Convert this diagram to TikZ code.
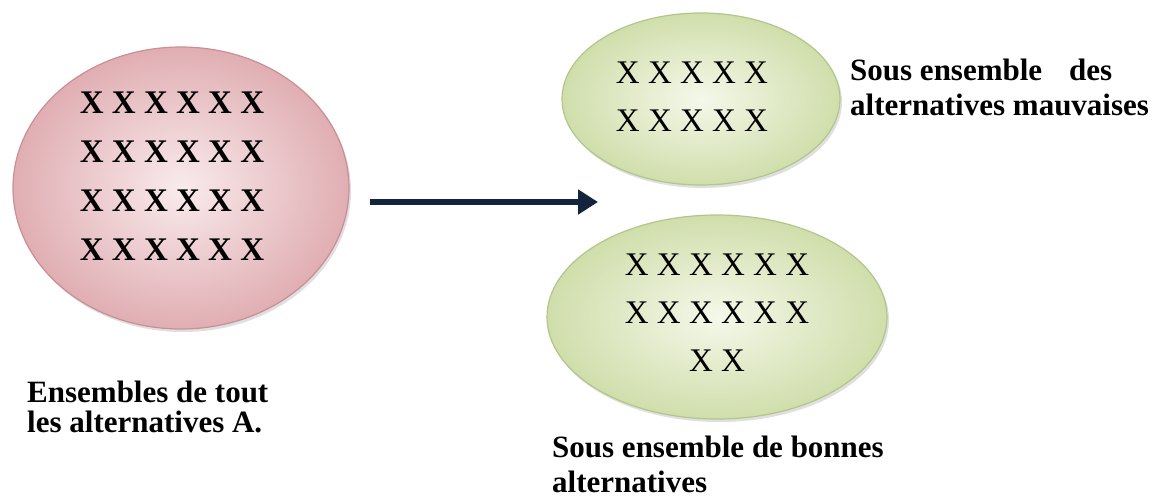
\documentclass[tikz,border=0pt]{standalone}
\usepackage{fontspec}
\setmainfont{Liberation Serif}
\usetikzlibrary{shapes.geometric,arrows.meta,shadows,calc}
\definecolor{redin}{HTML}{F9EBEC}
\definecolor{redout}{HTML}{E0AEB3}
\definecolor{redline}{HTML}{CB8E95}
\definecolor{grnin}{HTML}{F5F8EA}
\definecolor{grnout}{HTML}{D0DEAB}
\definecolor{grnline}{HTML}{B3C68A}
\definecolor{navy}{HTML}{14243D}
\tikzset{
  setred/.style={ellipse, inner sep=0pt, shading=radial, inner color=redin, outer color=redout,
     draw=redline, line width=1.2pt,
     drop shadow={shadow xshift=2pt, shadow yshift=-3pt, opacity=.25, fill=gray}},
  setgrn/.style={ellipse, inner sep=0pt, shading=radial, inner color=grnin, outer color=grnout,
     draw=grnline, line width=1.2pt,
     drop shadow={shadow xshift=2pt, shadow yshift=-3pt, opacity=.25, fill=gray}},
  xsbold/.style={inner sep=0pt, align=center, font=\fontsize{33}{49}\selectfont\bfseries},
  xsreg/.style={inner sep=0pt, align=center, font=\fontsize{33}{48}\selectfont},
  lbl/.style={inner sep=0pt, align=left, anchor=base west, font=\bfseries, text=black},
  flow/.style={draw=navy, line width=6pt, -{Triangle[length=20pt,width=24pt]}}
}
\begin{document}
\begin{tikzpicture}[x=1pt,y=-1pt]
\fill[white] (0,0) rectangle (1165,498);
\useasboundingbox (0,0) rectangle (1165,498);

\node[setred, minimum width=336pt, minimum height=282pt] (all) at (181,188) {};
\node[setgrn, minimum width=278pt, minimum height=172pt] (bad) at (701,99) {};
\node[setgrn, minimum width=340pt, minimum height=204pt] (good) at (717,317) {};

\node[xsbold] (allx) at (172,176) {X X X X X X\\X X X X X X\\X X X X X X\\X X X X X X};
\node[xsreg] (badx) at (692,97) {X X X X X\\X X X X X};
\node[xsreg] (goodx) at (717,313) {X X X X X X\\X X X X X X\\X X};

\coordinate (as) at ($(all.east)+(20,14)$);
\coordinate (ae) at (598,202);
\draw[flow] (as) -- (ae);

\node[lbl, font=\fontsize{31}{30}\selectfont\bfseries] (alllbl) at (27,432)
  {Ensembles de tout\\les alternatives A.};
\node[lbl, font=\fontsize{31}{35}\selectfont\bfseries] (badlbl) at (850,115)
  {Sous ensemble\hspace*{27pt}des\\alternatives mauvaises};
\node[lbl, font=\fontsize{31}{35}\selectfont\bfseries] (goodlbl) at (552,492)
  {Sous ensemble de bonnes\\alternatives};
\end{tikzpicture}
\end{document}
